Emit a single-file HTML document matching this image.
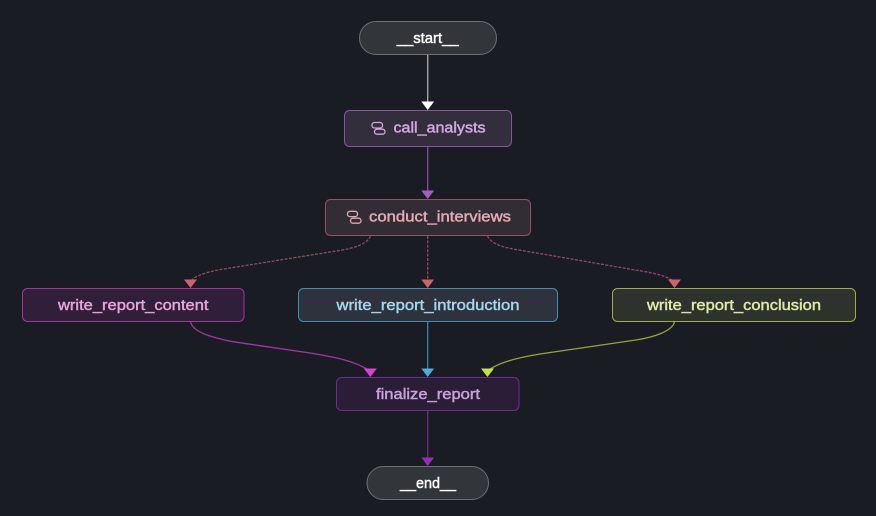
<!DOCTYPE html>
<html><head><meta charset="utf-8"><style>
html,body{margin:0;padding:0;background:#1a1c24;width:876px;height:516px;overflow:hidden}
svg{display:block}
text{font-family:"Liberation Sans",sans-serif;font-size:15px;stroke-width:.45px;paint-order:stroke}
</style></head><body>
<svg width="876" height="516" viewBox="0 0 876 516" xmlns="http://www.w3.org/2000/svg">
<rect width="876" height="516" fill="#1a1c24"/>
<g fill="none" stroke-width="1.3">
<path d="M427.7 55V103" stroke="#adadaf"/>
<path d="M427.7 147V192" stroke="#84509c"/>
<path d="M370.5 236C366 246 350 249 330 252L230 268C210 271 194 275 190.5 282" stroke="#8e4c5c" stroke-dasharray="3 1.4"/>
<path d="M427.7 236V281" stroke="#8e4c5c" stroke-dasharray="3 1.4"/>
<path d="M487.5 236C492 245 505 248 525 251L635 270C655 273 668 276 674.5 282" stroke="#8e4c5c" stroke-dasharray="3 1.4"/>
<path d="M190.5 322C193 332 210 337 233 341.7L310 353C335 357 355 361 370.3 371" stroke="#a832a4"/>
<path d="M427.7 322V370" stroke="#3b84a3"/>
<path d="M674.5 322C672 331 655 337 636 340L540 354C515 358 497 363 487.5 371" stroke="#96a636"/>
<path d="M427.7 411V459" stroke="#652f84"/>
</g>
<polygon points="421.3,101.5 434.1,101.5 427.7,110" fill="#fff"/>
<polygon points="421.3,190.5 434.1,190.5 427.7,199" fill="#a45cc8"/>
<polygon points="184,279.5 197,279.5 190.5,288" fill="#d2606e"/>
<polygon points="421.3,279.5 434.1,279.5 427.7,288" fill="#d2606e"/>
<polygon points="668,279.5 681,279.5 674.5,288" fill="#d2606e"/>
<polygon points="363.8,368.5 376.8,368.5 370.3,377" fill="#e03cd8"/>
<polygon points="421.3,368.5 434.1,368.5 427.7,377" fill="#46b0dc"/>
<polygon points="481,368.5 494,368.5 487.5,377" fill="#c8e040"/>
<polygon points="421.3,457.5 434.1,457.5 427.7,466" fill="#9030b4"/>

<rect x="359.5" y="21.5" width="137" height="33" rx="16.5" fill="#32353a" stroke="#6e7073"/>
<rect x="344.5" y="110.5" width="167" height="36" rx="5" fill="#322e3b" stroke="#8f4fa8"/>
<rect x="325.5" y="199.5" width="205" height="36" rx="5" fill="#322d35" stroke="#945264"/>
<rect x="22.5" y="288.5" width="221.5" height="33" rx="5" fill="#2f1f38" stroke="#a832a4"/>
<rect x="298.5" y="288.5" width="259" height="33" rx="5" fill="#2d323c" stroke="#3f8fb0"/>
<rect x="612.5" y="288.5" width="243" height="33" rx="5" fill="#2e322d" stroke="#a0ae3c"/>
<rect x="336.5" y="377.5" width="182.5" height="33" rx="5" fill="#2a1e36" stroke="#6e2e8e"/>
<rect x="367" y="466.5" width="121.5" height="33" rx="16.5" fill="#32353a" stroke="#6e7073"/>

<g fill="none" stroke="#d3a8e0" stroke-width="1.3">
<rect x="372" y="122.5" width="10.5" height="5.5" rx="2.4"/>
<rect x="374.5" y="129.2" width="10.5" height="5" rx="2.4"/>
</g>
<g fill="none" stroke="#e0a8b2" stroke-width="1.3">
<rect x="347.5" y="211.3" width="10" height="5.3" rx="2.4"/>
<rect x="350.5" y="218.2" width="10.5" height="5" rx="2.4"/>
</g>

<text x="396.7" y="43" textLength="62" lengthAdjust="spacingAndGlyphs" fill="#fff" stroke="#fff">__start__</text>
<text x="393.5" y="132.5" textLength="92" lengthAdjust="spacingAndGlyphs" fill="#d3a8e0" stroke="#d3a8e0">call_analysts</text>
<text x="369" y="221.5" textLength="142" lengthAdjust="spacingAndGlyphs" fill="#e3a9b4" stroke="#e3a9b4">conduct_interviews</text>
<text x="58" y="310" textLength="150.5" lengthAdjust="spacingAndGlyphs" fill="#e6a3dc" stroke="#e6a3dc">write_report_content</text>
<text x="336.5" y="310" textLength="183" lengthAdjust="spacingAndGlyphs" fill="#a3d6ec" stroke="#a3d6ec">write_report_introduction</text>
<text x="647" y="310" textLength="174" lengthAdjust="spacingAndGlyphs" fill="#dfeaa6" stroke="#dfeaa6">write_report_conclusion</text>
<text x="376" y="399" textLength="104" lengthAdjust="spacingAndGlyphs" fill="#c9a2dc" stroke="#c9a2dc">finalize_report</text>
<text x="400" y="488" textLength="56" lengthAdjust="spacingAndGlyphs" fill="#fff" stroke="#fff">__end__</text>
</svg>
</body></html>
